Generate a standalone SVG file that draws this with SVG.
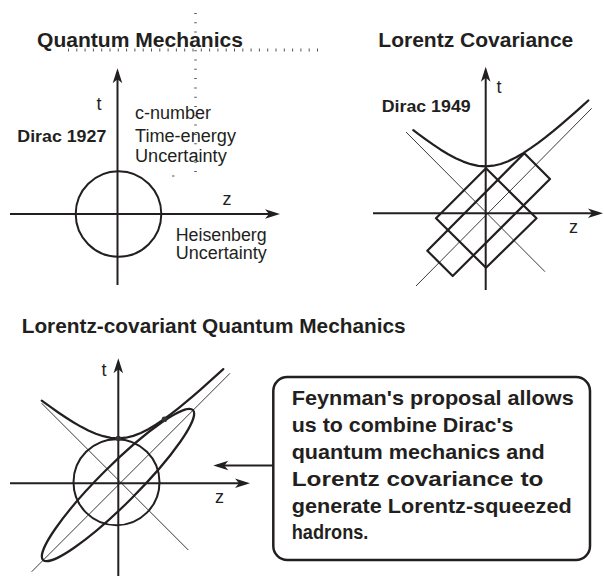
<svg xmlns="http://www.w3.org/2000/svg" width="604" height="576" viewBox="0 0 604 576">
<style>
.ax{stroke:#231f20;stroke-width:2;fill:none}
.thin{stroke:#3a3a3a;stroke-width:1;fill:none}
.thick{stroke:#231f20;stroke-width:2.2;fill:none;stroke-linejoin:round;stroke-linecap:round}
.tb{font-family:"Liberation Sans",Arial,sans-serif;font-weight:bold;fill:#231f20}
.tr{font-family:"Liberation Sans",Arial,sans-serif;fill:#231f20;font-size:18px}
.dots{stroke:#555;fill:none}
</style>
<defs>
<marker id="ah" viewBox="-12 -6 17 12" refX="0" refY="0" markerWidth="17" markerHeight="12" markerUnits="userSpaceOnUse" orient="auto">
<path d="M4,0 L-11,-4.8 L-7,0 L-11,4.8 Z" fill="#231f20"/>
</marker>
</defs>
<rect width="604" height="576" fill="#fff"/>

<g id="panel-quantum">
<text class="tb" x="37" y="46.5" font-size="20" textLength="206" lengthAdjust="spacingAndGlyphs">Quantum Mechanics</text>
<line class="dots" x1="68" y1="50" x2="324" y2="50" stroke-width="3" stroke-dasharray="1 7.3"/>
<line class="dots" x1="195.5" y1="13" x2="195.5" y2="173" stroke-width="2.5" stroke-dasharray="1 8.3"/>
<line class="dots" x1="172" y1="176" x2="174.5" y2="176" stroke-width="1"/>
<line class="ax" x1="117.5" y1="285" x2="117.5" y2="72.3" marker-end="url(#ah)"/>
<line class="ax" x1="10" y1="214" x2="276" y2="214" marker-end="url(#ah)"/>
<circle class="ax" cx="118.5" cy="214" r="42.8"/>
<text class="tr" x="96.5" y="110">t</text>
<text class="tb" x="17.3" y="141.7" font-size="16" textLength="89" lengthAdjust="spacingAndGlyphs">Dirac 1927</text>
<text class="tr" x="135" y="119.3" textLength="76" lengthAdjust="spacingAndGlyphs">c-number</text>
<text class="tr" x="135" y="141.7" textLength="101" lengthAdjust="spacingAndGlyphs">Time-energy</text>
<text class="tr" x="135" y="161.7" textLength="91.7" lengthAdjust="spacingAndGlyphs">Uncertainty</text>
<text class="tr" x="222.5" y="205">z</text>
<text class="tr" x="175.7" y="240.7" textLength="91" lengthAdjust="spacingAndGlyphs">Heisenberg</text>
<text class="tr" x="175.7" y="259.3" textLength="91" lengthAdjust="spacingAndGlyphs">Uncertainty</text>
</g>

<g id="panel-lorentz">
<text class="tb" x="378.3" y="46.5" font-size="20" textLength="195" lengthAdjust="spacingAndGlyphs">Lorentz Covariance</text>
<line class="thin" x1="406" y1="132" x2="545" y2="271.7"/>
<line class="thin" x1="416" y1="286" x2="591.7" y2="108.3"/>
<line class="ax" x1="485.7" y1="290" x2="485.7" y2="70.7" marker-end="url(#ah)"/>
<line class="ax" x1="373" y1="213.3" x2="599" y2="213.3" marker-end="url(#ah)"/>
<path class="thick" d="M413.3,130.1 L418.2,133.9 L425.7,139.4 L433.2,144.7 L440.7,149.7 L448.2,154.2 L455.7,158.2 L463.2,161.6 L470.7,164.2 L478.2,165.8 L485.7,166.3 L493.2,165.7 L500.7,164 L508.2,161.2 L515.7,157.5 L523.2,153.2 L530.7,148.2 L538.2,142.8 L545.7,137.1 L553.2,131.1 L560.7,124.8 L568.2,118.4 L575.7,111.8 L583.2,105.1 L588.3,100.5"/>
<path class="thick" d="M486,168.3 L536.5,218.3 L486,267.7 L436,218.3 Z"/>
<path class="thick" d="M427.3,250.7 L452.7,276 L550,179 L524.3,153.3 Z"/>
<text class="tr" x="496.5" y="93">t</text>
<text class="tb" x="381.7" y="111.7" font-size="16.5" textLength="89" lengthAdjust="spacingAndGlyphs">Dirac 1949</text>
<text class="tr" x="569" y="233.3">z</text>
</g>

<g id="panel-combined">
<text class="tb" x="21.7" y="332.5" font-size="19.5" textLength="384" lengthAdjust="spacingAndGlyphs">Lorentz-covariant Quantum Mechanics</text>
<line class="thin" x1="41.7" y1="403.3" x2="188.3" y2="550"/>
<line class="thin" x1="31.7" y1="571.7" x2="230" y2="373.3"/>
<line class="ax" x1="118.3" y1="576" x2="118.3" y2="362.3" marker-end="url(#ah)"/>
<line class="ax" x1="10" y1="483.3" x2="246" y2="483.3" marker-end="url(#ah)"/>
<circle class="ax" cx="116.5" cy="482.2" r="43"/>
<ellipse class="thick" cx="118" cy="485" rx="106" ry="19" transform="rotate(-45 118 485)"/>
<path class="thick" d="M41.7,400.6 L50.8,407.2 L58.3,412.5 L65.8,417.5 L73.3,422.3 L80.8,426.6 L88.3,430.5 L95.8,433.7 L103.3,436.2 L110.8,437.8 L118.3,438.3 L125.8,437.7 L133.3,435.9 L140.8,433 L148.3,429.2 L155.8,424.7 L163.3,419.7 L170.8,414.2 L178.3,408.3 L185.8,402.2 L193.3,395.8 L200.8,389.3 L208.3,382.7 L215.8,375.9 L223.3,369.1"/>
<circle cx="118.3" cy="438.5" r="2.8" fill="#333"/>
<circle cx="164.5" cy="419.3" r="2.8" fill="#333"/>
<text class="tr" x="101.5" y="376">t</text>
<text class="tr" x="215" y="503.3">z</text>
</g>

<g id="note-box">
<rect x="273.3" y="377" width="316.7" height="183" rx="14" ry="14" fill="#fff" stroke="#231f20" stroke-width="2.5"/>
<text class="tb" font-size="21">
<tspan x="291.7" y="405" textLength="282" lengthAdjust="spacingAndGlyphs">Feynman's proposal allows</tspan>
<tspan x="291.7" y="431.7" textLength="221.7" lengthAdjust="spacingAndGlyphs">us to combine Dirac's</tspan>
<tspan x="291.7" y="459" textLength="253" lengthAdjust="spacingAndGlyphs">quantum mechanics and</tspan>
<tspan x="291.7" y="486" textLength="251.7" lengthAdjust="spacingAndGlyphs">Lorentz covariance to</tspan>
<tspan x="291.7" y="512.7" textLength="280" lengthAdjust="spacingAndGlyphs">generate Lorentz-squeezed</tspan>
<tspan x="291.7" y="539.3" textLength="76.7" lengthAdjust="spacingAndGlyphs">hadrons.</tspan>
</text>
</g>

<g id="connectors">
<line class="ax" x1="273.3" y1="465.5" x2="217.3" y2="465.5" marker-end="url(#ah)"/>
</g>
</svg>
